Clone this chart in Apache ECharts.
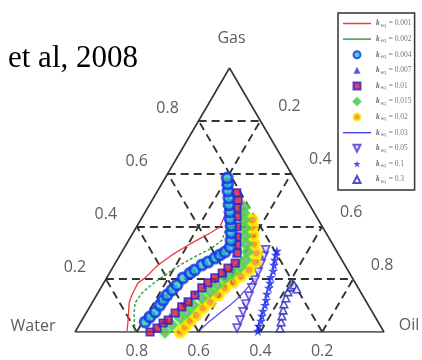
<!DOCTYPE html>
<html><head><meta charset="utf-8">
<script src="https://cdn.jsdelivr.net/npm/echarts@6/dist/echarts.min.js"></script>
<style>html,body{margin:0;padding:0;background:#fff}#c{width:422px;height:360px}</style>
</head><body><div id="c"></div>
<script>
// Each point: [water fraction, gas fraction]; oil = 1 - water - gas
const k0001 = [[0.832,0],[0.801,0.053],[0.770,0.110],[0.746,0.140],[0.703,0.186],[0.671,0.205],[0.604,0.254],[0.540,0.292],[0.483,0.322],[0.431,0.348],[0.375,0.375],[0.332,0.398],[0.293,0.443],[0.267,0.481],[0.245,0.519]];
const k0002 = [[0.806,0],[0.777,0.064],[0.751,0.110],[0.709,0.148],[0.670,0.174],[0.633,0.197],[0.555,0.242],[0.481,0.280],[0.398,0.318],[0.350,0.348],[0.314,0.394],[0.283,0.443]];
const k0004 = [[0.754,0.038],[0.729,0.057],[0.703,0.076],[0.674,0.102],[0.654,0.121],[0.632,0.140],[0.606,0.159],[0.581,0.178],[0.548,0.205],[0.516,0.223],[0.495,0.235],[0.462,0.254],[0.437,0.265],[0.407,0.280],[0.385,0.292],[0.363,0.303],[0.337,0.322],[0.321,0.348],[0.307,0.375],[0.294,0.402],[0.284,0.428],[0.271,0.455],[0.261,0.481],[0.248,0.508],[0.238,0.534],[0.225,0.561],[0.216,0.583]];
const k0007 = [[0.737,0.008],[0.699,0.038],[0.661,0.064],[0.622,0.091],[0.580,0.121],[0.538,0.148],[0.494,0.170],[0.450,0.193],[0.407,0.216],[0.371,0.242],[0.339,0.292],[0.301,0.367],[0.267,0.443],[0.232,0.519]];
const k001 = [[0.757,0],[0.727,0.015],[0.698,0.034],[0.676,0.045],[0.640,0.072],[0.607,0.095],[0.577,0.114],[0.542,0.140],[0.506,0.167],[0.477,0.186],[0.445,0.205],[0.412,0.223],[0.384,0.242],[0.351,0.261],[0.326,0.299],[0.311,0.330],[0.296,0.360],[0.277,0.398],[0.258,0.436],[0.241,0.470],[0.222,0.500],[0.213,0.527]];
const k0015 = [[0.709,0],[0.673,0.027],[0.633,0.053],[0.600,0.076],[0.567,0.102],[0.525,0.129],[0.487,0.152],[0.451,0.178],[0.413,0.205],[0.380,0.223],[0.343,0.246],[0.311,0.273],[0.291,0.303],[0.280,0.333],[0.268,0.364],[0.253,0.394],[0.241,0.424],[0.228,0.451],[0.216,0.473]];
const k002 = [[0.660,0],[0.635,0.019],[0.607,0.042],[0.576,0.064],[0.541,0.091],[0.506,0.114],[0.467,0.140],[0.432,0.167],[0.394,0.189],[0.357,0.212],[0.320,0.235],[0.284,0.265],[0.264,0.299],[0.254,0.333],[0.240,0.367],[0.228,0.398],[0.215,0.424]];
const k003 = [[0.591,0.008],[0.542,0.042],[0.495,0.072],[0.447,0.102],[0.398,0.136],[0.355,0.170],[0.315,0.205],[0.280,0.242],[0.251,0.288]];
const k005 = [[0.468,0.015],[0.443,0.045],[0.418,0.076],[0.394,0.106],[0.369,0.136],[0.344,0.167],[0.319,0.197],[0.294,0.227],[0.269,0.258],[0.244,0.288],[0.227,0.311]];
const k01 = [[0.406,0.004],[0.394,0.023],[0.377,0.042],[0.365,0.061],[0.352,0.080],[0.334,0.102],[0.321,0.121],[0.307,0.144],[0.289,0.167],[0.276,0.186],[0.262,0.208],[0.243,0.231],[0.229,0.254],[0.217,0.273],[0.204,0.292],[0.193,0.307]];
const k03 = [[0.329,0.015],[0.314,0.038],[0.300,0.061],[0.285,0.083],[0.271,0.106],[0.253,0.129],[0.235,0.152],[0.216,0.170],[0.202,0.178],[0.201,0.163]];

const kNames = ['0.001','0.002','0.004','0.007','0.01','0.015','0.02','0.03','0.05','0.1','0.3'];
const gasTicks = [0.2,0.4,0.6,0.8];
const oilTicks = [0.2,0.4,0.6,0.8];
const waterTicks = [0.8,0.6,0.4,0.2];
const gridSteps = [0.2,0.4,0.6,0.8];
const vertexNames = ['Gas','Water','Oil'];
const citation = 'et al, 2008';

function toXY(p){ const w=p[0], g=p[1]; return [1 - w - g/2, g]; }
const xy = arr => arr.map(toXY);

// grid lines
const gridSeg = [];
gridSteps.forEach(v => {
  gridSeg.push({coords:[toXY([1-v, v]), toXY([0, v])]});        // constant gas
  gridSeg.push({coords:[toXY([v, 0]), toXY([v, 1-v])]});        // constant water
  gridSeg.push({coords:[toXY([1-v, 0]), toXY([0, 1-v])]});      // constant oil
});

const lbl = (val, off, txt) => ({value: val, label:{show:true, position:'inside', offset: off, formatter: txt}});
const tickData = [];
gasTicks.forEach(g => tickData.push(lbl(toXY([1-g, g]), [-31,-12], String(g))));
oilTicks.forEach(o => tickData.push(lbl(toXY([0, 1-o]), [29,-14], String(o))));
waterTicks.forEach(w => tickData.push(lbl(toXY([w, 0]), [0,19], String(w))));
tickData.push(lbl(toXY([0,1]), [2,-30], vertexNames[0]));
tickData.push(lbl(toXY([1,0]), [-42,-6], vertexNames[1]));
tickData.push(lbl(toXY([0,0]), [25,-7], vertexNames[2]));

const SYM = {
  star: 'path://M50,0 L61,35 L98,35 L68,57 L79,91 L50,70 L21,91 L32,57 L2,35 L39,35 Z',
  circle: 'path://M0,10a10,10 0 1,0 20,0a10,10 0 1,0 -20,0Z',
  rect: 'path://M0,0H10V10H0Z',
  tri: 'path://M5,0L10,10H0Z',
  triDown: 'path://M0,0H10L5,10Z',
  diamond: 'path://M5,0L10,5L5,10L0,5Z',
  line: 'path://M0,0H56V3H0Z'
};

const chart = echarts.init(document.getElementById('c'), null, {renderer:'canvas'});
const sc = (name, data, symbol, size, style) => ({
  type:'scatter', name, data: xy(data), symbol, symbolSize: size, itemStyle: style, silent:true, clip:false, z:3
});
const lineNames = [kNames[0], kNames[1], kNames[7]];

chart.setOption({
  animation:false,
  backgroundColor:'#fff',
  grid:{left:75, top:68, width:309, height:264},
  xAxis:{type:'value', min:0, max:1, show:false},
  yAxis:{type:'value', min:0, max:1, show:false},
  graphic:[{type:'text', left:8, top:43, style:{text:citation, font:'31px "Liberation Serif"', fill:'#000'}}],
  legend:{
    orient:'vertical', left:338, top:13, padding:[6,3,6,5],
    itemWidth:28, itemHeight:7, itemGap:6.6,
    borderColor:'#333', borderWidth:1.5, backgroundColor:'#fff',
    data: kNames.map(n => lineNames.includes(n) ? {name:n, icon:SYM.line} : {name:n}),
    formatter: n => '{k|k}{s|eq}{v| = ' + n + '}',
    textStyle:{color:'#666', fontSize:7.5, lineHeight:9,
      rich:{k:{fontStyle:'italic', fontWeight:'bold', fontSize:7.5, color:'#666', fontFamily:'Liberation Serif'},
            s:{fontSize:4.5, color:'#777', padding:[4,1,0,1]},
            v:{fontSize:7.5, color:'#777', fontFamily:'Liberation Serif'}}}
  },
  series:[
    {type:'lines', coordinateSystem:'cartesian2d', data:gridSeg, silent:true, z:1,
     lineStyle:{color:'#333', width:1.9, type:[8,5], opacity:1}},
    {type:'line', data:[[0,0],[1,0],[0.5,1],[0,0]], symbol:'none', silent:true, z:2,
     lineStyle:{color:'#333', width:1.6}},
    {type:'line', name:kNames[0], data:xy(k0001), symbol:'none', z:3, lineStyle:{color:'#ee3b3b', width:1.3}, itemStyle:{color:'#ee3b3b'}},
    {type:'line', name:kNames[1], data:xy(k0002), symbol:'none', z:3, lineStyle:{color:'#3a9a46', width:1.4, type:[3,2]}, itemStyle:{color:'#3a9a46'}},
    sc(kNames[10], k03, SYM.tri, 7.5, {color:'#ffffff', borderColor:'#2424b4', borderWidth:1.6}),
    sc(kNames[9], k01, SYM.star, 10, {color:'#1524f0'}),
    sc(kNames[8], k005, SYM.triDown, 8, {color:'#e4dcff', borderColor:'#4a34d0', borderWidth:1.7}),
    {type:'line', name:kNames[7], data:xy(k003), symbol:'none', z:3, lineStyle:{color:'#4a4af4', width:1.2}, itemStyle:{color:'#4a4af4'}},
    sc(kNames[6], k002, SYM.circle, 10, {color:'#f08a10', borderColor:'#ffec00', borderWidth:3.5}),
    sc(kNames[5], k0015, SYM.diamond, 10, {color:'#8a9a8a', borderColor:'#3ee03e', borderWidth:2.8}),
    sc(kNames[4], k001, SYM.rect, 7.5, {color:'#d41040', borderColor:'#2a20c8', borderWidth:1.7}),
    sc(kNames[3], k0007, SYM.tri, 4, {color:'#2434d8'}),
    sc(kNames[2], k0004, SYM.circle, 10, {color:'#2fbfbf', borderColor:'#1232e8', borderWidth:3}),
    {type:'scatter', data:tickData, symbolSize:1, silent:true, clip:false, z:5,
     itemStyle:{color:'rgba(0,0,0,0)'},
     label:{color:'#333', fontSize:16, fontFamily:'Open Sans'}}
  ]
});
</script></body></html>
